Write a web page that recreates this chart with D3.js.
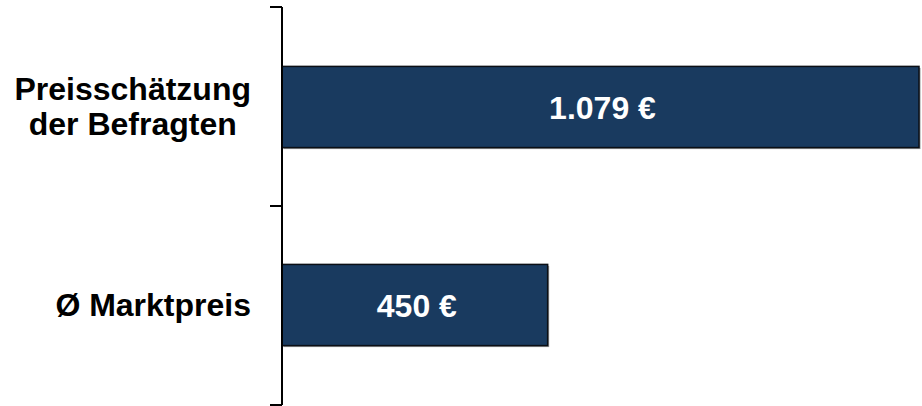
<html lang="de">
<head>
<meta charset="utf-8">
<title>Preisschätzung</title>
<style>
  body { margin: 0; background: white; }
  svg { display: block; background: white; }
  text { font-family: "Liberation Sans", Arial, sans-serif; font-weight: bold; }
  .bar { fill: #193a5f; stroke: #0b0f16; stroke-width: 1.5; }
  .shadow { fill: #9a9a9a; }
  .axis-line { stroke: black; stroke-width: 2; }
</style>
</head>
<body>
<div id="chart"></div>
<script src="https://d3js.org/d3.v7.min.js"></script>
<script>
// data
var categories = ["Preisschätzung\nder Befragten", "Ø Marktpreis"];
var values = [1079, 450];
var valueLabels = ["1.079 €", "450 €"];

var width = 922, height = 406;
var axisX = 282;

var svg = d3.select("#chart").append("svg")
    .attr("width", width)
    .attr("height", height);

var x = d3.scaleLinear()
    .domain([0, 1079])
    .range([axisX, 919]);

var y = d3.scaleBand()
    .domain(categories)
    .range([7, 405])
    .paddingInner(0.59)
    .paddingOuter(0.3);

// shadow behind bars
svg.selectAll(".shadow")
    .data(values)
    .enter().append("rect")
    .attr("class", "shadow")
    .attr("x", x(0) + 1.5)
    .attr("y", function(d, i) { return y(categories[i]) + 1.5; })
    .attr("width", function(d) { return x(d) - x(0); })
    .attr("height", y.bandwidth());

svg.selectAll(".bar")
    .data(values)
    .enter().append("rect")
    .attr("class", "bar")
    .attr("x", x(0))
    .attr("y", function(d, i) { return y(categories[i]); })
    .attr("width", function(d) { return x(d) - x(0); })
    .attr("height", y.bandwidth());

// value labels
svg.selectAll(".value")
    .data(values)
    .enter().append("text")
    .attr("class", "value")
    .attr("x", function(d) { return (x(0) + x(d)) / 2 + 2; })
    .attr("y", function(d, i) { return y(categories[i]) + y.bandwidth() / 2 + 12; })
    .attr("text-anchor", "middle")
    .style("fill", "white")
    .style("font-size", "32px")
    .text(function(d, i) { return valueLabels[i]; });

// axis line + ticks at band boundaries
var r = y.range();
svg.append("line")
    .attr("class", "axis-line")
    .attr("x1", axisX).attr("x2", axisX)
    .attr("y1", r[0]).attr("y2", r[1]);

var bounds = d3.range(categories.length + 1).map(function(i) { return r[0] + i * (r[1] - r[0]) / categories.length; });
svg.selectAll(".tick")
    .data(bounds)
    .enter().append("line")
    .attr("class", "axis-line")
    .attr("x1", axisX - 12).attr("x2", axisX)
    .attr("y1", function(d) { return d; })
    .attr("y2", function(d) { return d; });

// category labels (lines centered within a right-aligned block)
var blockRight = 251;
categories.forEach(function(c) {
    var lines = c.split("\n");
    var lineH = 35;
    var cy = y(c) + y.bandwidth() / 2;
    var g = svg.append("g");
    var texts = lines.map(function(l, j) {
        return g.append("text")
            .attr("y", cy + 11 + (j - (lines.length - 1) / 2) * lineH)
            .attr("text-anchor", "middle")
            .style("font-size", "32px")
            .style("fill", "black")
            .text(l);
    });
    var maxW = d3.max(texts, function(t) { return t.node().getComputedTextLength(); });
    texts.forEach(function(t) { t.attr("x", blockRight - maxW / 2); });
});
</script>
</body>
</html>
